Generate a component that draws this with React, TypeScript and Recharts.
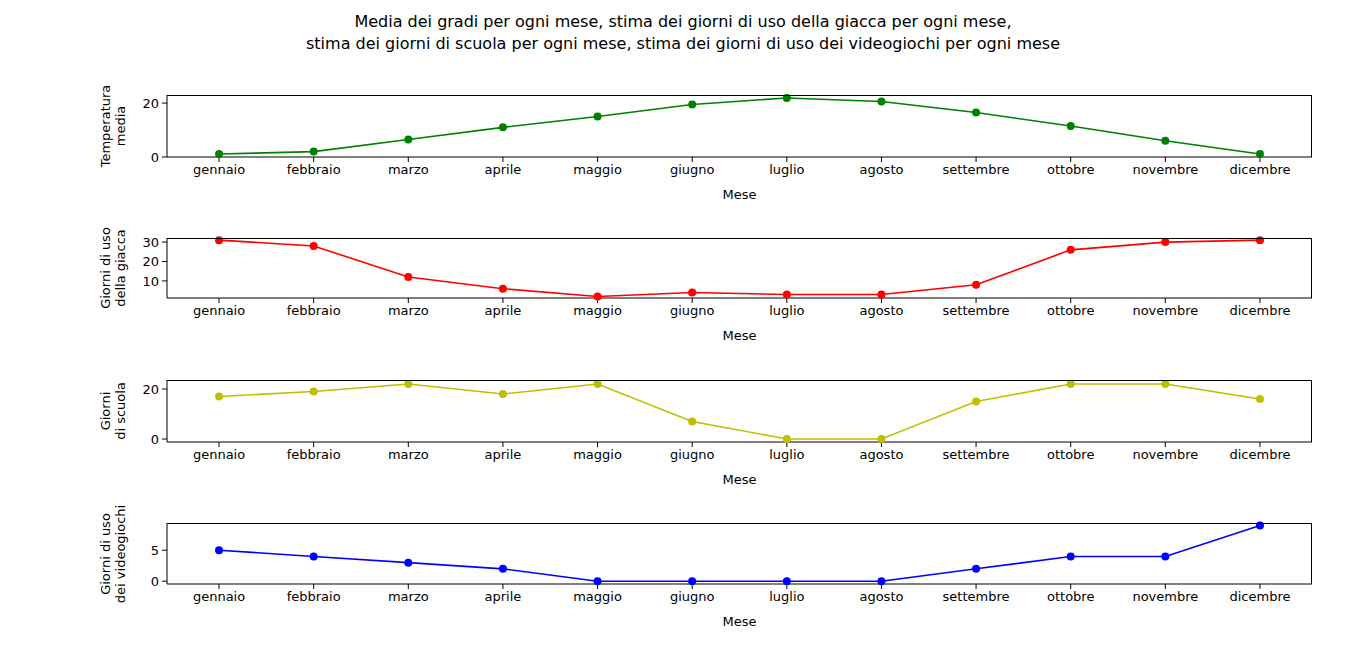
import React from "react";
import { LineChart, Line, XAxis, YAxis } from "recharts";

const months = ["gennaio","febbraio","marzo","aprile","maggio","giugno","luglio","agosto","settembre","ottobre","novembre","dicembre"];
const temperatura = [1.1, 2, 6.5, 11, 15, 19.5, 21.9, 20.6, 16.5, 11.5, 6, 1.1];
const giacca = [31, 28, 12, 6, 2, 4, 3, 3, 8, 26, 30, 31];
const scuola = [17, 19, 22, 18, 22, 7, 0, 0, 15, 22, 22, 16];
const videogiochi = [5, 4, 3, 2, 0, 0, 0, 0, 2, 4, 4, 9];

const panels = [
  { values: temperatura, color: "#008000", top: 95, h: 62, domain: [0, 23], ticks: [0, 20], label: ["Temperatura", "media"] },
  { values: giacca, color: "#ff0000", top: 238, h: 60, domain: [1.2, 32.1], ticks: [10, 20, 30], label: ["Giorni di uso", "della giacca"] },
  { values: scuola, color: "#bfbf00", top: 380, h: 62, domain: [-1.2, 23.6], ticks: [0, 20], label: ["Giorni", "di scuola"] },
  { values: videogiochi, color: "#0000ff", top: 523, h: 61, domain: [-0.45, 9.4], ticks: [0, 5], label: ["Giorni di uso", "dei videogiochi"] },
];

const font = "DejaVu Sans, sans-serif";
const tickStyle = { fill: "#000", fontSize: 13, fontFamily: font };

export default function App() {
  return (
    <div style={{ position: "fixed", left: 0, top: 0, width: 1366, height: 665, background: "#fff", fontFamily: font }}>
      <div style={{ position: "absolute", top: 11, width: 1366, textAlign: "center", fontSize: 16, lineHeight: "22px" }}>
        Media dei gradi per ogni mese, stima dei giorni di uso della giacca per ogni mese,<br />
        stima dei giorni di scuola per ogni mese, stima dei giorni di uso dei videogiochi per ogni mese
      </div>
      {panels.map((p, i) => {
        const data = p.values.map((v, k) => ({ x: k, v }));
        return (
          <div key={i}>
            <div style={{ position: "absolute", left: 118 - 60, top: p.top + p.h / 2 - 20, width: 120, height: 40, transform: "rotate(-90deg)", textAlign: "center", fontSize: 13, lineHeight: "15px" }}>
              {p.label[0]}<br />{p.label[1]}
            </div>
            <div style={{ position: "absolute", left: 0, top: p.top - 10 }}>
              <LineChart width={1366} height={p.h + 10 + 48} data={data} margin={{ top: 10, right: 54, bottom: 0, left: 107 }}>
                <XAxis dataKey="x" type="number" domain={[-0.55, 11.55]} ticks={[0,1,2,3,4,5,6,7,8,9,10,11]}
                  tickFormatter={(t: number) => months[t]} interval={0} height={48} tick={tickStyle}
                  stroke="#000" tickSize={5} tickMargin={3}
                  label={{ value: "Mese", position: "insideBottom", offset: 6, fill: "#000", fontSize: 13, fontFamily: font }} />
                <YAxis type="number" domain={p.domain} ticks={p.ticks} interval={0} width={60} tick={tickStyle} stroke="#000" tickSize={5} tickMargin={3} />
                <Line dataKey="v" stroke={p.color} strokeWidth={1.6} isAnimationActive={false}
                  dot={{ r: 4, fill: p.color, stroke: p.color, strokeWidth: 0 }} />
              </LineChart>
            </div>
            <div style={{ position: "absolute", left: 167, top: p.top, width: 1312 - 167, height: p.h, borderTop: "1px solid #000", borderRight: "1px solid #000", boxSizing: "border-box", pointerEvents: "none" }} />
          </div>
        );
      })}
    </div>
  );
}
